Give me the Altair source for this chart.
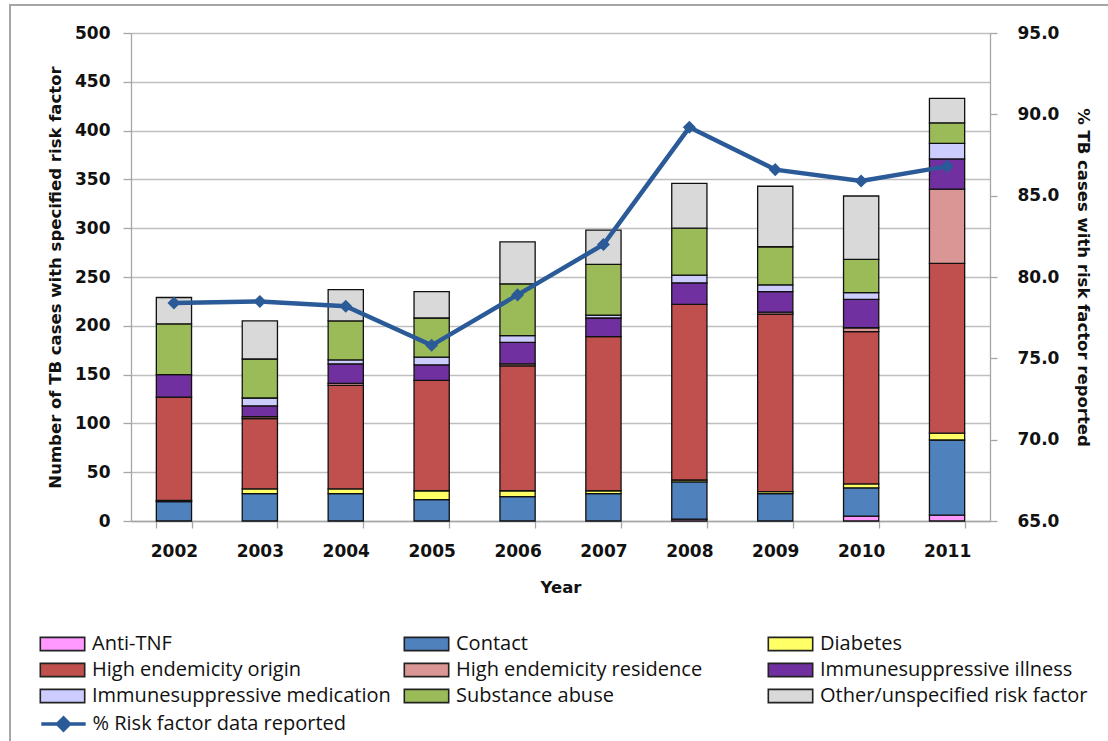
import altair as alt
import pandas as pd

# Cases per year, by risk factor (stacked bottom to top in this order)
years = ["2002", "2003", "2004", "2005", "2006", "2007", "2008", "2009", "2010", "2011"]
anti_tnf = [0, 0, 0, 0, 0, 0, 2, 0, 5, 6]
contact = [20, 28, 28, 22, 25, 28, 38, 28, 29, 77]
diabetes = [1, 5, 5, 9, 6, 3, 2, 2, 4, 7]
high_endemicity_origin = [106, 72, 106, 113, 128, 158, 180, 182, 156, 174]
high_endemicity_residence = [0, 2, 2, 0, 2, 0, 0, 2, 4, 76]
immuno_illness = [23, 11, 20, 16, 22, 19, 22, 21, 29, 31]
immuno_medication = [0, 8, 4, 8, 7, 3, 8, 7, 7, 16]
substance_abuse = [52, 40, 40, 40, 53, 52, 48, 39, 34, 21]
other_unspecified = [27, 39, 32, 27, 43, 35, 46, 62, 65, 25]

# Share of TB cases with risk factor data reported (%)
pct_reported = [78.4, 78.5, 78.2, 75.8, 78.9, 82.0, 89.2, 86.6, 85.9, 86.8]

factor_names = [
    "Anti-TNF", "Contact", "Diabetes",
    "High endemicity origin", "High endemicity residence", "Immunesuppressive illness",
    "Immunesuppressive medication", "Substance abuse", "Other/unspecified risk factor",
]
factor_values = [
    anti_tnf, contact, diabetes,
    high_endemicity_origin, high_endemicity_residence, immuno_illness,
    immuno_medication, substance_abuse, other_unspecified,
]
factor_colors = [
    "#FF99FF", "#4F81BD", "#FFFF66",
    "#C0504D", "#DA9694", "#7030A0",
    "#CCCCFF", "#9BBB59", "#D9D9D9",
]
line_name = "% Risk factor data reported"
line_color = "#2A5A97"

rows = []
for k, (name, vals) in enumerate(zip(factor_names, factor_values)):
    for yr, v in zip(years, vals):
        rows.append({"year": yr, "factor": name, "order": k, "cases": v})
bars_df = pd.DataFrame(rows)
line_df = pd.DataFrame({"year": years, "pct": pct_reported, "series": line_name})

W, H = 859, 488
PAD_L, PAD_T, PAD_R, PAD_B = 131, 33, 118, 220
FONT = "DejaVu Sans"
LEGEND_FONT = "Open Sans"
LEGEND_X = -81.5

x_enc = alt.X(
    "year:N",
    title="Year",
    scale=alt.Scale(paddingInner=0.59, paddingOuter=0.295),
    axis=alt.Axis(
        labelAngle=0, tickBand="extent", tickSize=7, labelPadding=15,
        titlePadding=20, domainColor="#A6A6A6", tickColor="#A6A6A6",
    ),
)

bars = (
    alt.Chart(bars_df)
    .transform_filter("datum.cases > 0")
    .mark_bar(stroke="#111111", strokeWidth=1.3)
    .encode(
        x=x_enc,
        y=alt.Y(
            "cases:Q",
            stack="zero",
            title="Number of TB cases with specified  risk factor",
            scale=alt.Scale(domain=[0, 500], nice=False),
            axis=alt.Axis(
                values=list(range(0, 501, 50)), grid=True, gridColor="#BFBFBF",
                tickSize=8, labelPadding=13, titlePadding=11,
                domainColor="#A6A6A6", tickColor="#A6A6A6",
            ),
        ),
        color=alt.Color(
            "factor:N",
            scale=alt.Scale(domain=factor_names, range=factor_colors),
            legend=alt.Legend(
                title=None, orient="none", legendX=LEGEND_X, legendY=598,
                columns=3, direction="horizontal", gridAlign="all",
                columnPadding=9, rowPadding=3, padding=0,
                symbolType="M-1.85,-0.55H1.85V0.55H-1.85Z", symbolSize=576,
                symbolStrokeColor="#222222", symbolStrokeWidth=1.6,
                symbolOpacity=1, labelFont=LEGEND_FONT, labelFontSize=20,
                labelColor="#111111", labelOffset=16.5, labelLimit=400,
            ),
        ),
        order=alt.Order("order:Q", sort="ascending"),
    )
)

pct_base = alt.Chart(line_df).encode(
    x=alt.X("year:N"),
    y=alt.Y(
        "pct:Q",
        title="% TB cases with risk factor reported",
        scale=alt.Scale(domain=[65, 95], nice=False, zero=False),
        axis=alt.Axis(
            values=[65, 70, 75, 80, 85, 90, 95], format=".1f", orient="right", grid=False,
            tickSize=7, labelPadding=20, titlePadding=16,
            domainColor="#A6A6A6", tickColor="#A6A6A6",
        ),
    ),
)

line = pct_base.mark_line(strokeWidth=4.5).encode(
    stroke=alt.Stroke(
        "series:N",
        scale=alt.Scale(domain=[line_name], range=[line_color]),
        legend=alt.Legend(
            title=None, orient="none", legendX=LEGEND_X, legendY=677, padding=0,
            symbolType="M-1.85,0H1.85M-0.5,0L0,-0.5L0.5,0L0,0.5Z", symbolSize=576,
            symbolStrokeWidth=3.5, symbolOpacity=1, symbolFillColor=line_color,
            labelFont=LEGEND_FONT, labelFontSize=20, labelColor="#111111",
            labelOffset=15, labelLimit=400,
        ),
    ),
)

points = pct_base.mark_point(shape="diamond", filled=True, size=170, opacity=1, color=line_color)

pct_layer = alt.layer(line, points)

frame = (
    alt.Chart(pd.DataFrame({"k": [0]}))
    .mark_rect(fill=None, stroke="#A6A6A6", strokeWidth=2)
    .encode(
        x=alt.value(10 - PAD_L), x2=alt.value(1140 - PAD_L),
        y=alt.value(5 - PAD_T), y2=alt.value(780 - PAD_T),
    )
)

chart = (
    alt.layer(frame, bars, pct_layer)
    .resolve_scale(y="independent", color="independent", stroke="independent")
    .properties(
        width=W, height=H,
        autosize=alt.AutoSizeParams(type="none"),
        padding={"left": PAD_L, "top": PAD_T, "right": PAD_R, "bottom": PAD_B},
        background="white",
    )
    .configure_view(stroke=None)
    .configure_axis(
        labelFont=FONT, labelFontSize=17, labelFontWeight="bold", labelColor="#111111",
        titleFont=FONT, titleFontSize=16.5, titleFontWeight="bold", titleColor="#111111",
        domainWidth=1.3, tickWidth=1.3, gridWidth=1.3,
    )
)

chart.save("out.html", embed_options={"renderer": "svg", "actions": False})
